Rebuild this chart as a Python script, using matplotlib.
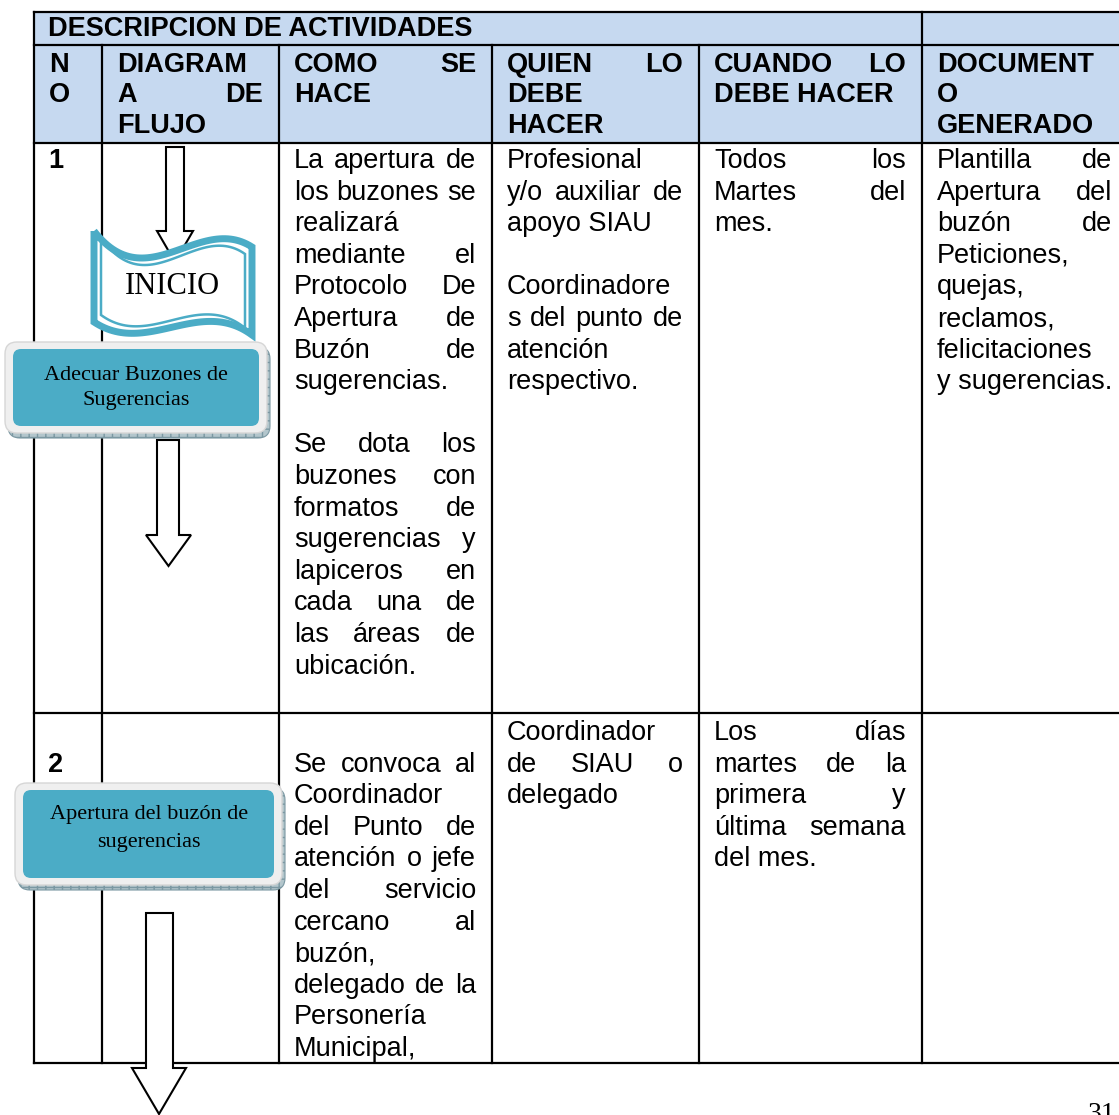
import matplotlib
matplotlib.use("Agg")
import matplotlib.pyplot as plt
from matplotlib.patches import Rectangle, FancyBboxPatch, Polygon, PathPatch
from matplotlib.path import Path
import numpy as np

# ---- contents of the table ----
title = "DESCRIPCION DE ACTIVIDADES"
head_no = ["N", "O"]
head_diagram = ["DIAGRAM", "A DE", "FLUJO"]
head_como = ["COMO SE", "HACE"]
head_quien = ["QUIEN LO", "DEBE", "HACER"]
head_cuando = ["CUANDO LO", "DEBE HACER"]
head_doc = ["DOCUMENT", "O", "GENERADO"]

row_numbers = ["1", "2"]

como_1 = ["La apertura de", "los buzones se", "realizará", "mediante el",
          "Protocolo De", "Apertura de", "Buzón de", "sugerencias.", "",
          "Se dota los", "buzones con", "formatos de", "sugerencias y",
          "lapiceros en", "cada una de", "las áreas de", "ubicación."]
quien_1 = ["Profesional", "y/o auxiliar de", "apoyo SIAU", "",
           "Coordinadore", "s del punto de", "atención", "respectivo."]
cuando_1 = ["Todos los", "Martes del", "mes."]
doc_1 = ["Plantilla de", "Apertura del", "buzón de", "Peticiones,", "quejas,",
         "reclamos,", "felicitaciones", "y sugerencias."]

como_2 = ["", "Se convoca al", "Coordinador", "del Punto de", "atención o jefe",
          "del servicio", "cercano al", "buzón,", "delegado de la",
          "Personería", "Municipal,"]
quien_2 = ["Coordinador", "de SIAU o", "delegado"]
cuando_2 = ["Los días", "martes de la", "primera y", "última semana", "del mes."]
doc_2 = []

flow_start = "INICIO"
flow_steps = ["Adecuar Buzones de\nSugerencias", "Apertura del buzón de\nsugerencias"]
page_number = "31"

# ---- layout (pixels) ----
W, H = 1119, 1115
col_x = [34, 102, 279, 492, 699, 922, 1119]
y_top, y_head1, y_head2, y_row, y_bot = 12, 45, 143, 713, 1063
pitch = 31.6
head_pitch = 30.5
teal = "#4bacc6"
sans = "Liberation Sans"
serif = "Liberation Serif"
body_size = 19.5

fig = plt.figure(figsize=(W / 100, H / 100), dpi=100)
ax = fig.add_axes([0, 0, 1, 1])
ax.set_xlim(0, W)
ax.set_ylim(H, 0)
ax.axis("off")
renderer = fig.canvas.get_renderer()


def put_line(line, x0, x1, y, justify, **kw):
    words = line.split()
    if not words:
        return
    if not justify or len(words) == 1:
        ax.text(x0, y, line, ha="left", va="baseline", zorder=6, **kw)
        return
    ts = [ax.text(0, y, w, ha="left", va="baseline", zorder=6, **kw) for w in words]
    widths = [t.get_window_extent(renderer).width for t in ts]
    gap = (x1 - x0 - sum(widths)) / (len(words) - 1)
    x = x0
    for t, w in zip(ts, widths):
        t.set_x(x)
        x += w + gap


def put_cell(lines, col, y0, step, **kw):
    x0 = col_x[col] + 15
    x1 = 1112 if col == 5 else col_x[col + 1] - 16
    for i, line in enumerate(lines):
        last = i == len(lines) - 1 or lines[i + 1] == ""
        put_line(line, x0, x1, y0 + i * step, not last, **kw)


# header background
ax.add_patch(Rectangle((col_x[0], y_top), W - col_x[0], y_head2 - y_top,
                       fc="#c6d9f0", ec="none", zorder=1))

lw = 1.6
for y in [y_top, y_head1, y_head2, y_row, y_bot]:
    ax.plot([col_x[0], W], [y, y], color="k", lw=lw, zorder=2)
for x in [col_x[0], col_x[5]]:
    ax.plot([x, x], [y_top, y_bot], color="k", lw=lw, zorder=2)
for x in col_x[1:5]:
    ax.plot([x, x], [y_head1, y_bot], color="k", lw=lw, zorder=2)

# header text
bold = dict(family=sans, fontsize=body_size, fontweight="bold")
ax.text(col_x[0] + 14, 36, title, ha="left", va="baseline", zorder=6, **bold)
for c, lines in enumerate([head_no, head_diagram, head_como, head_quien,
                           head_cuando, head_doc]):
    put_cell(lines, c, 72, head_pitch, **bold)

# body text
body = dict(family=sans, fontsize=body_size)
row_base = [168, 740]
ax.text(col_x[0] + 14, row_base[0], row_numbers[0], ha="left", va="baseline",
        zorder=6, **bold)
ax.text(col_x[0] + 14, row_base[1] + pitch, row_numbers[1], ha="left",
        va="baseline", zorder=6, **bold)
for c, lines in zip([2, 3, 4, 5], [como_1, quien_1, cuando_1, doc_1]):
    put_cell(lines, c, row_base[0], pitch, **body)
for c, lines in zip([2, 3, 4, 5], [como_2, quien_2, cuando_2, doc_2]):
    put_cell(lines, c, row_base[1], pitch, **body)


# ---- flow diagram ----
def block_arrow(sx0, sx1, top, hy, hx0, hx1, tip):
    tx = (hx0 + hx1) / 2
    pts = [(sx0, top), (sx1, top), (sx1, hy), (hx1, hy), (tx, tip),
           (hx0, hy), (sx0, hy)]
    ax.add_patch(Polygon(pts, closed=True, fc="white", ec="black", lw=1.5,
                         joinstyle="miter", zorder=3))


block_arrow(166, 184, 147, 231, 157, 193, 262)
block_arrow(157, 179, 440, 535, 146, 191, 566)
block_arrow(146, 173, 913, 1068, 132, 186, 1114)


def bez(p0, p1, p2, p3, n=60):
    t = np.linspace(0, 1, n)[:, None]
    return ((1 - t) ** 3 * np.array(p0) + 3 * (1 - t) ** 2 * t * np.array(p1)
            + 3 * (1 - t) * t ** 2 * np.array(p2) + t ** 3 * np.array(p3))


def banner(x0, x1, inset):
    w = x1 - x0
    top = bez((x0, 231 + inset), (x0 + w / 3, 299 + inset),
              (x0 + 2 * w / 3, 213 + inset), (x1, 247 + inset))
    bot = bez((x0, 322 - inset), (x0 + w / 3, 357 - inset),
              (x0 + 2 * w / 3, 296 - inset), (x1, 335 - inset))
    pts = np.vstack([top, bot[::-1], top[:1]])
    return Path(pts)


ax.add_patch(PathPatch(banner(94, 252, 0), fc="white", ec=teal, lw=5,
                       joinstyle="miter", zorder=4))
ax.add_patch(PathPatch(banner(101, 245, 7), fc="none", ec=teal, lw=1.8,
                       zorder=4))
ax.text(172, 287, flow_start, family=serif, fontsize=22, ha="center",
        va="center", zorder=6)


def step_box(x0, y0, x1, y1, label, cx, ys):
    ax.add_patch(FancyBboxPatch((x0 + 3, y0 + 5), x1 - x0, y1 - y0,
                                boxstyle="round,pad=0,rounding_size=12",
                                fc="#b3c6cc", ec="#7b98a2", lw=0.8, hatch="++",
                                zorder=4))
    ax.add_patch(FancyBboxPatch((x0, y0), x1 - x0, y1 - y0,
                                boxstyle="round,pad=0,rounding_size=12",
                                fc="#efefef", ec="#d6d6d6", lw=1, zorder=4))
    ax.add_patch(FancyBboxPatch((x0 + 8, y0 + 7), x1 - x0 - 16, y1 - y0 - 14,
                                boxstyle="round,pad=0,rounding_size=8",
                                fc=teal, ec="none", zorder=4))
    for line, y in zip(label.split("\n"), ys):
        ax.text(cx, y, line, family=serif, fontsize=16, ha="center",
                va="center", zorder=6)


step_box(5, 342, 267, 433, flow_steps[0], 136, [375, 400])
step_box(15, 783, 282, 885, flow_steps[1], 149, [815, 842])

ax.text(1088, 1102, page_number, family=serif, fontsize=20, ha="left",
        va="top", zorder=6)

fig.savefig("out.png", dpi=100)
